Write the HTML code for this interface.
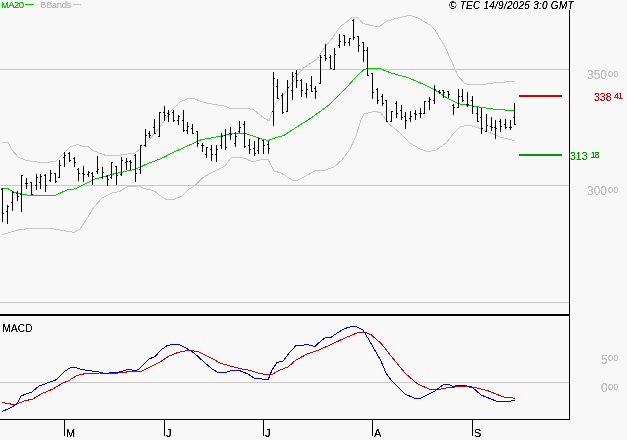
<!DOCTYPE html>
<html><head><meta charset="utf-8"><title>Chart</title>
<style>
html,body{margin:0;padding:0;background:#f8f8f8;}
body{width:627px;height:440px;overflow:hidden;position:relative;font-family:"Liberation Sans",Arial,sans-serif;}
svg{position:absolute;left:0;top:0;}
.s{font-size:9.5px;}
.sx{display:inline-block;transform-origin:0 0;}
.t{position:absolute;white-space:nowrap;line-height:1;filter:url(#thr);}
</style></head><body>
<svg width="627" height="440" viewBox="0 0 627 440">
<defs><filter id="thr" x="0" y="0" width="100%" height="100%" color-interpolation-filters="sRGB"><feComponentTransfer><feFuncA type="linear" slope="2.6" intercept="-0.5"/></feComponentTransfer></filter></defs>
<rect width="627" height="440" fill="#f8f8f8"/>
<g shape-rendering="crispEdges" fill="#c8c8c8">
<rect x="0" y="69" width="569" height="1"/>
<rect x="0" y="185" width="569" height="1"/>
<rect x="0" y="302" width="569" height="1"/>
<rect x="0" y="382" width="569" height="1"/>
</g>
<g fill="none" stroke-width="1" stroke-linejoin="round" shape-rendering="crispEdges">
<polyline stroke="#c8c8c8" points="2,142 8,142.4 12,150 18,157 26,160.4 40,162.4 48,162.4 56,161 62,155 70,147 78,144.4 84,147 88,146.6 94,151 106,155.6 114,155.6 121,155 135,153 141,148 147,142 155,133 160,127 170,112 180,102 187,99 193,98.4 206,103 224,106 232,109 248,108.4 254,110 260,115 265,118.5 269,121 272,112 276,103 281,98 292,83 302,69 317,59 325,47 331,40 340,27 352,17.6 358,18 363,23.6 376,26.4 380,26 387,21 398,18 410,15.2 418,18 430,25 435,30 445,47 451,60 458,76 464,83 470,85 482,84.6 496,82.6 514.6,81.4"/>
<polyline stroke="#c8c8c8" points="2,234.4 10,232.4 20,229.6 30,228.4 50,228.4 60,230 74,232.4 80,229 86,220 94,207 102,198 112,193 120,191.3 127.5,186.5 138.75,186 145,188.75 153.75,190.6 160,195.6 166.25,199.4 174.4,199.4 182.5,195.6 188.75,189.4 195,185.6 203,177.4 213,172 225,166 231,158 237,157 241,157.4 253,161.6 263,159.4 268,159.6 274,171 281,173 292,180 298,180 308,175 316,170 324,170.4 334,167 342,160 350,149 356,136 361,120 364,114 375,111.3 381,113 388,123 400,133 410,143 420,149 428,151.6 436,150 446,143 454,133 460,127 468,125 476,127 488,132 500,137 514.6,140.6"/>
<polyline stroke="#00cc00" points="1.25,188.75 7.5,188.5 12.5,191.25 17.5,193.5 24,194.6 31,195.5 55,195.5 67.5,189.75 75,188.9 95,179 115,173.6 135,169.4 149,163 155,161 165,156.8 170,154 185,147 201,139.8 215,137.2 230,134.2 235,133 245,133.4 256,137 260,138.4 268,140.6 275,138 284,135.3 296,127.5 309,119.4 318,113 329,105 347,87 355,78 364,69.4 371,68.2 379,68.2 391,73 408,77.6 425,85 435,90 447,98 458,103.6 469,105.6 482,107.4 496,109.4 514.6,110.6"/>
<polyline stroke="#cc0000" points="2,402.4 8,403.6 14,404.6 18,403.6 24,401 33,399 42,393.6 53,389 62,383.6 69,380.4 77,375.6 86,373.4 100,373 118,373 130,371.6 141,371.4 150,367 160,362 168,356.6 178,352.4 188,350.4 198,351.4 210,357.4 220,363 232,366.6 245,369.6 250,370.4 260,373.6 271,375 280,370 288,367 296,360 308,353.6 318,350.4 330,345 344,338.4 358,332.6 365,332.4 371,334.6 382,344.4 391,356 405,373 417,383.6 429,389 439,389.4 449,387.4 463,386.4 473,387.4 477,388 488.5,391 503.5,397 510,397.4 512,397.6 514.75,398.6"/>
<polyline stroke="#0000cc" points="2,411.6 10,408 17,404 21,396 26,394 32,392 39,386 46,383.6 51,381.4 55,380.6 60,376 65,371 71,367.4 75,367.4 80,369 88,370.6 98,371.6 106,374 111,372.4 116,373 121,371.6 129,369 135,371 139,369 149,359 155,356.6 161,350 167,345.6 173,344.4 179,344.4 186,348 194,353 204,362 212,369 218,372.4 226,372.4 230,371 239,370.4 248,374 254,378 260,378.6 268,380 272,370 277,362.4 283,361 290,352 296,345.6 302,345.4 307,344.4 315,346.4 322,340 326,337.6 331,337.4 338,332.4 345,328.4 352,326.6 356,326.6 363,330 369,340 381,361 386,373 391,380 405,394 415,398.4 420,398.4 435,391 443,385 448,384 453,386.4 459,385 464,385.4 472,387 481,395 496,401 511,401 514.75,400.5"/>
</g>
<g shape-rendering="crispEdges" fill="#000">
<rect x="2" y="188" width="1" height="34"/><rect x="1" y="189" width="1" height="1"/><rect x="3" y="213" width="1" height="1"/><rect x="7" y="205" width="1" height="19"/><rect x="6" y="211" width="1" height="1"/><rect x="8" y="206" width="1" height="1"/><rect x="12" y="191" width="1" height="20"/><rect x="11" y="202" width="1" height="1"/><rect x="13" y="192" width="1" height="1"/><rect x="17" y="191" width="1" height="10"/><rect x="16" y="193" width="1" height="1"/><rect x="18" y="196" width="1" height="1"/><rect x="21" y="175" width="1" height="37"/><rect x="20" y="194" width="1" height="1"/><rect x="22" y="175" width="1" height="1"/><rect x="26" y="178" width="1" height="11"/><rect x="25" y="183" width="1" height="1"/><rect x="27" y="183" width="1" height="1"/><rect x="31" y="182" width="1" height="13"/><rect x="30" y="182" width="1" height="1"/><rect x="32" y="194" width="1" height="1"/><rect x="36" y="174" width="1" height="16"/><rect x="35" y="185" width="1" height="1"/><rect x="37" y="177" width="1" height="1"/><rect x="40" y="174" width="1" height="15"/><rect x="39" y="182" width="1" height="1"/><rect x="41" y="176" width="1" height="1"/><rect x="45" y="174" width="1" height="18"/><rect x="44" y="175" width="1" height="1"/><rect x="46" y="185" width="1" height="1"/><rect x="50" y="170" width="1" height="12"/><rect x="49" y="180" width="1" height="1"/><rect x="51" y="173" width="1" height="1"/><rect x="55" y="173" width="1" height="10"/><rect x="54" y="173" width="1" height="1"/><rect x="56" y="181" width="1" height="1"/><rect x="59" y="160" width="1" height="18"/><rect x="58" y="177" width="1" height="1"/><rect x="60" y="165" width="1" height="1"/><rect x="64" y="152" width="1" height="15"/><rect x="63" y="157" width="1" height="1"/><rect x="65" y="155" width="1" height="1"/><rect x="69" y="152" width="1" height="10"/><rect x="68" y="153" width="1" height="1"/><rect x="70" y="160" width="1" height="1"/><rect x="74" y="157" width="1" height="10"/><rect x="73" y="158" width="1" height="1"/><rect x="75" y="162" width="1" height="1"/><rect x="78" y="168" width="1" height="13"/><rect x="77" y="169" width="1" height="1"/><rect x="79" y="173" width="1" height="1"/><rect x="83" y="166" width="1" height="16"/><rect x="82" y="173" width="1" height="1"/><rect x="84" y="174" width="1" height="1"/><rect x="88" y="171" width="1" height="6"/><rect x="87" y="174" width="1" height="1"/><rect x="89" y="172" width="1" height="1"/><rect x="92" y="172" width="1" height="13"/><rect x="91" y="173" width="1" height="1"/><rect x="93" y="176" width="1" height="1"/><rect x="97" y="156" width="1" height="18"/><rect x="96" y="171" width="1" height="1"/><rect x="98" y="169" width="1" height="1"/><rect x="102" y="167" width="1" height="12"/><rect x="101" y="177" width="1" height="1"/><rect x="103" y="172" width="1" height="1"/><rect x="107" y="175" width="1" height="11"/><rect x="106" y="176" width="1" height="1"/><rect x="108" y="179" width="1" height="1"/><rect x="111" y="162" width="1" height="17"/><rect x="110" y="177" width="1" height="1"/><rect x="112" y="162" width="1" height="1"/><rect x="116" y="166" width="1" height="19"/><rect x="115" y="166" width="1" height="1"/><rect x="117" y="175" width="1" height="1"/><rect x="121" y="157" width="1" height="19"/><rect x="120" y="174" width="1" height="1"/><rect x="122" y="160" width="1" height="1"/><rect x="126" y="158" width="1" height="12"/><rect x="125" y="162" width="1" height="1"/><rect x="127" y="161" width="1" height="1"/><rect x="130" y="160" width="1" height="10"/><rect x="129" y="161" width="1" height="1"/><rect x="131" y="162" width="1" height="1"/><rect x="135" y="154" width="1" height="28"/><rect x="134" y="155" width="1" height="1"/><rect x="136" y="173" width="1" height="1"/><rect x="140" y="145" width="1" height="29"/><rect x="139" y="169" width="1" height="1"/><rect x="141" y="145" width="1" height="1"/><rect x="145" y="129" width="1" height="18"/><rect x="144" y="145" width="1" height="1"/><rect x="146" y="135" width="1" height="1"/><rect x="149" y="131" width="1" height="7"/><rect x="148" y="133" width="1" height="1"/><rect x="150" y="135" width="1" height="1"/><rect x="154" y="119" width="1" height="15"/><rect x="153" y="127" width="1" height="1"/><rect x="155" y="133" width="1" height="1"/><rect x="159" y="112" width="1" height="25"/><rect x="158" y="136" width="1" height="1"/><rect x="160" y="112" width="1" height="1"/><rect x="164" y="106" width="1" height="15"/><rect x="163" y="112" width="1" height="1"/><rect x="165" y="115" width="1" height="1"/><rect x="168" y="110" width="1" height="12"/><rect x="167" y="113" width="1" height="1"/><rect x="169" y="114" width="1" height="1"/><rect x="173" y="110" width="1" height="12"/><rect x="172" y="112" width="1" height="1"/><rect x="174" y="120" width="1" height="1"/><rect x="178" y="115" width="1" height="10"/><rect x="177" y="120" width="1" height="1"/><rect x="179" y="116" width="1" height="1"/><rect x="183" y="110" width="1" height="22"/><rect x="182" y="120" width="1" height="1"/><rect x="184" y="130" width="1" height="1"/><rect x="187" y="122" width="1" height="12"/><rect x="186" y="130" width="1" height="1"/><rect x="188" y="126" width="1" height="1"/><rect x="192" y="124" width="1" height="10"/><rect x="191" y="128" width="1" height="1"/><rect x="193" y="133" width="1" height="1"/><rect x="197" y="131" width="1" height="16"/><rect x="196" y="131" width="1" height="1"/><rect x="198" y="143" width="1" height="1"/><rect x="202" y="143" width="1" height="9"/><rect x="201" y="145" width="1" height="1"/><rect x="203" y="145" width="1" height="1"/><rect x="206" y="147" width="1" height="11"/><rect x="205" y="154" width="1" height="1"/><rect x="207" y="147" width="1" height="1"/><rect x="211" y="145" width="1" height="16"/><rect x="210" y="149" width="1" height="1"/><rect x="212" y="154" width="1" height="1"/><rect x="216" y="145" width="1" height="17"/><rect x="215" y="154" width="1" height="1"/><rect x="217" y="149" width="1" height="1"/><rect x="221" y="133" width="1" height="16"/><rect x="220" y="145" width="1" height="1"/><rect x="222" y="136" width="1" height="1"/><rect x="225" y="129" width="1" height="21"/><rect x="224" y="135" width="1" height="1"/><rect x="226" y="147" width="1" height="1"/><rect x="230" y="127" width="1" height="13"/><rect x="229" y="133" width="1" height="1"/><rect x="231" y="134" width="1" height="1"/><rect x="235" y="132" width="1" height="15"/><rect x="234" y="143" width="1" height="1"/><rect x="236" y="136" width="1" height="1"/><rect x="239" y="121" width="1" height="12"/><rect x="238" y="131" width="1" height="1"/><rect x="240" y="127" width="1" height="1"/><rect x="244" y="121" width="1" height="27"/><rect x="243" y="124" width="1" height="1"/><rect x="245" y="146" width="1" height="1"/><rect x="249" y="139" width="1" height="15"/><rect x="248" y="145" width="1" height="1"/><rect x="250" y="149" width="1" height="1"/><rect x="254" y="141" width="1" height="15"/><rect x="253" y="148" width="1" height="1"/><rect x="255" y="153" width="1" height="1"/><rect x="258" y="138" width="1" height="16"/><rect x="257" y="150" width="1" height="1"/><rect x="259" y="138" width="1" height="1"/><rect x="263" y="140" width="1" height="14"/><rect x="262" y="140" width="1" height="1"/><rect x="264" y="145" width="1" height="1"/><rect x="268" y="141" width="1" height="13"/><rect x="267" y="144" width="1" height="1"/><rect x="269" y="148" width="1" height="1"/><rect x="273" y="72" width="1" height="54"/><rect x="272" y="111" width="1" height="1"/><rect x="274" y="78" width="1" height="1"/><rect x="277" y="79" width="1" height="20"/><rect x="276" y="86" width="1" height="1"/><rect x="278" y="98" width="1" height="1"/><rect x="282" y="93" width="1" height="21"/><rect x="281" y="95" width="1" height="1"/><rect x="283" y="112" width="1" height="1"/><rect x="287" y="80" width="1" height="32"/><rect x="286" y="111" width="1" height="1"/><rect x="288" y="87" width="1" height="1"/><rect x="292" y="72" width="1" height="28"/><rect x="291" y="90" width="1" height="1"/><rect x="293" y="76" width="1" height="1"/><rect x="296" y="70" width="1" height="18"/><rect x="295" y="73" width="1" height="1"/><rect x="297" y="80" width="1" height="1"/><rect x="301" y="79" width="1" height="18"/><rect x="300" y="80" width="1" height="1"/><rect x="302" y="90" width="1" height="1"/><rect x="306" y="83" width="1" height="15"/><rect x="305" y="93" width="1" height="1"/><rect x="307" y="89" width="1" height="1"/><rect x="311" y="76" width="1" height="16"/><rect x="310" y="85" width="1" height="1"/><rect x="312" y="91" width="1" height="1"/><rect x="315" y="86" width="1" height="13"/><rect x="314" y="88" width="1" height="1"/><rect x="316" y="91" width="1" height="1"/><rect x="320" y="55" width="1" height="29"/><rect x="319" y="83" width="1" height="1"/><rect x="321" y="57" width="1" height="1"/><rect x="325" y="44" width="1" height="17"/><rect x="324" y="55" width="1" height="1"/><rect x="326" y="58" width="1" height="1"/><rect x="330" y="55" width="1" height="14"/><rect x="329" y="57" width="1" height="1"/><rect x="331" y="68" width="1" height="1"/><rect x="334" y="48" width="1" height="22"/><rect x="333" y="69" width="1" height="1"/><rect x="335" y="54" width="1" height="1"/><rect x="339" y="34" width="1" height="14"/><rect x="338" y="45" width="1" height="1"/><rect x="340" y="41" width="1" height="1"/><rect x="344" y="35" width="1" height="11"/><rect x="343" y="35" width="1" height="1"/><rect x="345" y="42" width="1" height="1"/><rect x="349" y="38" width="1" height="8"/><rect x="348" y="42" width="1" height="1"/><rect x="350" y="38" width="1" height="1"/><rect x="353" y="19" width="1" height="21"/><rect x="352" y="20" width="1" height="1"/><rect x="354" y="37" width="1" height="1"/><rect x="358" y="36" width="1" height="16"/><rect x="357" y="36" width="1" height="1"/><rect x="359" y="45" width="1" height="1"/><rect x="363" y="42" width="1" height="20"/><rect x="362" y="42" width="1" height="1"/><rect x="364" y="50" width="1" height="1"/><rect x="367" y="47" width="1" height="29"/><rect x="366" y="50" width="1" height="1"/><rect x="368" y="75" width="1" height="1"/><rect x="372" y="73" width="1" height="26"/><rect x="371" y="73" width="1" height="1"/><rect x="373" y="92" width="1" height="1"/><rect x="377" y="88" width="1" height="16"/><rect x="376" y="89" width="1" height="1"/><rect x="378" y="100" width="1" height="1"/><rect x="382" y="94" width="1" height="12"/><rect x="381" y="96" width="1" height="1"/><rect x="383" y="103" width="1" height="1"/><rect x="386" y="100" width="1" height="22"/><rect x="385" y="100" width="1" height="1"/><rect x="387" y="121" width="1" height="1"/><rect x="391" y="111" width="1" height="11"/><rect x="390" y="121" width="1" height="1"/><rect x="392" y="111" width="1" height="1"/><rect x="396" y="101" width="1" height="17"/><rect x="395" y="103" width="1" height="1"/><rect x="397" y="113" width="1" height="1"/><rect x="401" y="105" width="1" height="15"/><rect x="400" y="110" width="1" height="1"/><rect x="402" y="117" width="1" height="1"/><rect x="405" y="112" width="1" height="17"/><rect x="404" y="116" width="1" height="1"/><rect x="406" y="120" width="1" height="1"/><rect x="410" y="111" width="1" height="11"/><rect x="409" y="118" width="1" height="1"/><rect x="411" y="116" width="1" height="1"/><rect x="415" y="110" width="1" height="10"/><rect x="414" y="113" width="1" height="1"/><rect x="416" y="114" width="1" height="1"/><rect x="420" y="108" width="1" height="10"/><rect x="419" y="113" width="1" height="1"/><rect x="421" y="113" width="1" height="1"/><rect x="424" y="101" width="1" height="13"/><rect x="423" y="113" width="1" height="1"/><rect x="425" y="101" width="1" height="1"/><rect x="429" y="97" width="1" height="13"/><rect x="428" y="101" width="1" height="1"/><rect x="430" y="99" width="1" height="1"/><rect x="434" y="85" width="1" height="19"/><rect x="433" y="100" width="1" height="1"/><rect x="435" y="89" width="1" height="1"/><rect x="439" y="90" width="1" height="4"/><rect x="438" y="91" width="1" height="1"/><rect x="440" y="92" width="1" height="1"/><rect x="443" y="90" width="1" height="8"/><rect x="442" y="90" width="1" height="1"/><rect x="444" y="92" width="1" height="1"/><rect x="448" y="91" width="1" height="7"/><rect x="447" y="91" width="1" height="1"/><rect x="449" y="94" width="1" height="1"/><rect x="453" y="104" width="1" height="11"/><rect x="452" y="105" width="1" height="1"/><rect x="454" y="107" width="1" height="1"/><rect x="458" y="89" width="1" height="19"/><rect x="457" y="107" width="1" height="1"/><rect x="459" y="96" width="1" height="1"/><rect x="462" y="89" width="1" height="13"/><rect x="461" y="96" width="1" height="1"/><rect x="463" y="100" width="1" height="1"/><rect x="467" y="92" width="1" height="15"/><rect x="466" y="104" width="1" height="1"/><rect x="468" y="104" width="1" height="1"/><rect x="472" y="96" width="1" height="18"/><rect x="471" y="100" width="1" height="1"/><rect x="473" y="106" width="1" height="1"/><rect x="477" y="107" width="1" height="15"/><rect x="476" y="113" width="1" height="1"/><rect x="478" y="121" width="1" height="1"/><rect x="481" y="108" width="1" height="26"/><rect x="480" y="117" width="1" height="1"/><rect x="482" y="128" width="1" height="1"/><rect x="486" y="114" width="1" height="18"/><rect x="485" y="131" width="1" height="1"/><rect x="487" y="125" width="1" height="1"/><rect x="491" y="117" width="1" height="14"/><rect x="490" y="126" width="1" height="1"/><rect x="492" y="127" width="1" height="1"/><rect x="495" y="120" width="1" height="19"/><rect x="494" y="127" width="1" height="1"/><rect x="496" y="128" width="1" height="1"/><rect x="500" y="119" width="1" height="13"/><rect x="499" y="121" width="1" height="1"/><rect x="501" y="126" width="1" height="1"/><rect x="505" y="119" width="1" height="10"/><rect x="504" y="124" width="1" height="1"/><rect x="506" y="127" width="1" height="1"/><rect x="510" y="120" width="1" height="10"/><rect x="509" y="127" width="1" height="1"/><rect x="511" y="127" width="1" height="1"/><rect x="514" y="103" width="1" height="22"/><rect x="513" y="117" width="1" height="1"/><rect x="515" y="124" width="1" height="1"/>
</g>
<g shape-rendering="crispEdges">
<rect x="0" y="314" width="570" height="2" fill="#000"/>
<rect x="569" y="10" width="1" height="410" fill="#000"/>
<rect x="0" y="419" width="570" height="1" fill="#000"/>
<rect x="64" y="419" width="1" height="17" fill="#000"/>
<rect x="164" y="419" width="1" height="17" fill="#000"/>
<rect x="263" y="419" width="1" height="17" fill="#000"/>
<rect x="372" y="419" width="1" height="17" fill="#000"/>
<rect x="472" y="419" width="1" height="17" fill="#000"/>
<rect x="519" y="95" width="43" height="2" fill="#cc0000"/>
<rect x="519" y="154" width="43" height="2" fill="#009900"/>
<rect x="25" y="4" width="9" height="1" fill="#00cc00"/>
<rect x="73" y="4" width="8" height="1" fill="#c4c4c4"/>
</g>
</svg>
<div class="t" id="ma" style="left:1px;top:-0.5px;font-size:9.5px;color:#00cc00;letter-spacing:-0.6px">MA20</div>
<div class="t" id="bb" style="left:40px;top:-0.5px;font-size:9.5px;color:#c0c0c0;letter-spacing:-0.4px">BBands</div>
<div class="t" id="cp" style="left:449px;top:1px;font-size:10px;font-style:italic;color:#000;letter-spacing:0.25px">© TEC 14/9/2025 3:0 GMT</div>
<div class="t" id="p350" style="left:587px;top:69px;font-size:12px;color:#c0c0c0;">350</div>
<div class="t" id="p300" style="left:587px;top:185px;font-size:12px;color:#c0c0c0;">300</div>
<div class="t" id="r338" style="left:594px;top:92px;font-size:10.5px;color:#cc0000;">338</div>
<div class="t" id="g313" style="left:570px;top:151px;font-size:10.5px;color:#009900;">313</div>
<div class="t s" id="s350" style="left:608px;top:69px;color:#c0c0c0;">00</div>
<div class="t s" id="s300" style="left:608px;top:185px;color:#c0c0c0;">00</div>
<div class="t s" id="s500" style="left:608px;top:353px;color:#c0c0c0;">00</div>
<div class="t s" id="s000" style="left:608px;top:382px;color:#c0c0c0;">00</div>
<div class="t s" id="s41" style="left:614px;top:92px;color:#cc0000;letter-spacing:-0.9px;font-size:9px">41</div>
<div class="t s" id="s18" style="left:590.5px;top:151px;color:#009900;letter-spacing:-0.9px;font-size:9px">18</div>
<div class="t" id="macd" style="left:2.5px;top:323.5px;font-size:10px;color:#000;letter-spacing:0.15px">MACD</div>
<div class="t" id="m500" style="left:601px;top:354px;font-size:12px;color:#c0c0c0;">5</div>
<div class="t" id="m000" style="left:601px;top:382px;font-size:12px;color:#c0c0c0;">0</div>
<div class="t" id="lM" style="left:66px;top:428px;font-size:11px;">M</div>
<div class="t" id="lJ1" style="left:166px;top:428px;font-size:11px;">J</div>
<div class="t" id="lJ2" style="left:265px;top:428px;font-size:11px;">J</div>
<div class="t" id="lA" style="left:374px;top:428px;font-size:11px;">A</div>
<div class="t" id="lS" style="left:474px;top:428px;font-size:11px;">S</div>
</body></html>
